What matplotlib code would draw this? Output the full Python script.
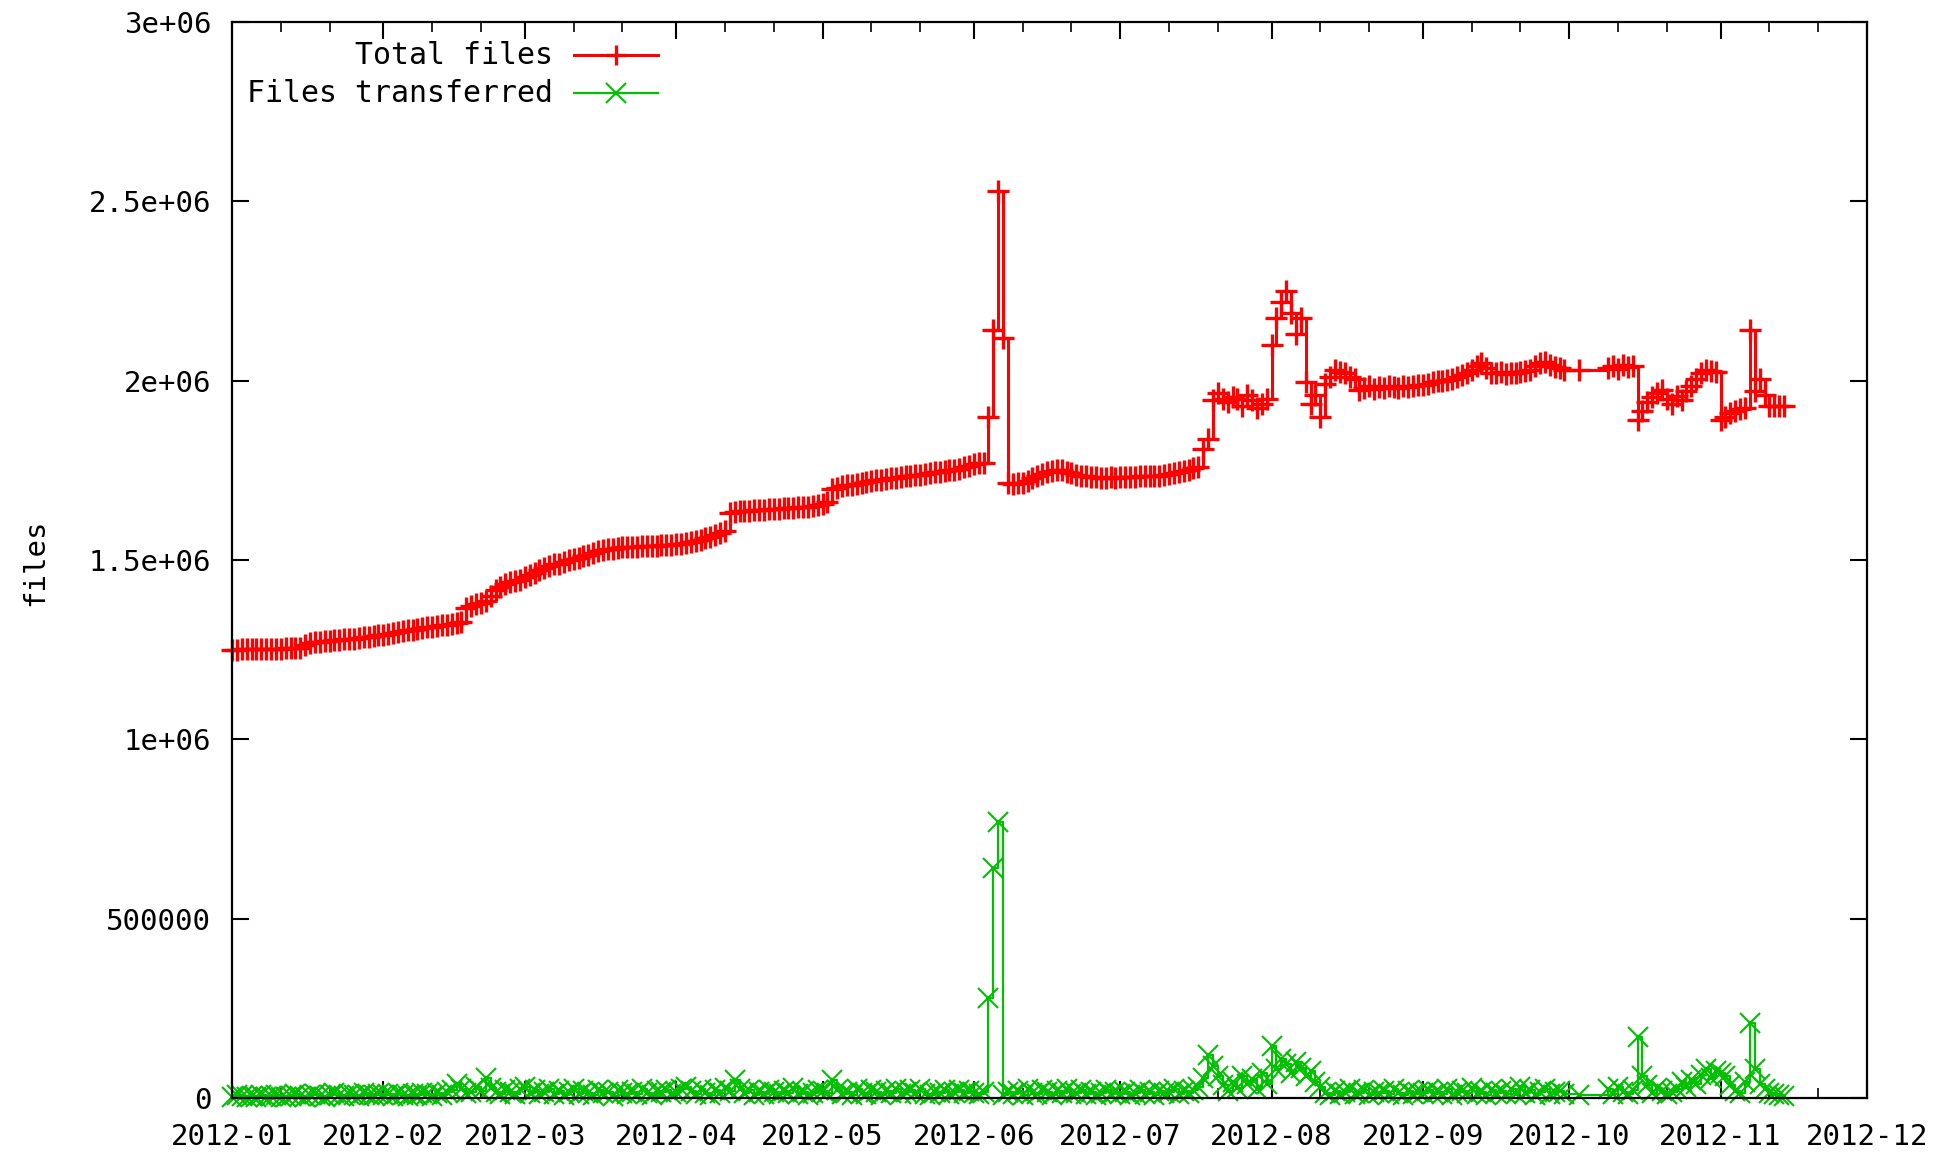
import pandas as pd
import matplotlib
matplotlib.use('Agg')
import matplotlib.pyplot as plt
import matplotlib.dates as mdates
from matplotlib.lines import Line2D

plt.rcParams['font.family'] = ['DejaVu Sans Mono']

# daily values in thousands of files, one list per month (None = no sample that day)
total_jan = [1250, 1250, 1251, 1251, 1251, 1252, 1252, 1252, 1253, 1253, 1253, 1254, 1254, 1254, 1255, 1262,
             1268, 1270, 1272, 1274, 1275, 1277, 1278, 1279, 1280, 1281, 1283, 1284, 1286, 1288, 1290]
total_feb = [1292, 1295, 1297, 1300, 1302, 1304, 1306, 1308, 1310, 1312, 1314, 1316, 1318, 1320, 1322,
             1325, 1328, 1365, 1372, 1376, 1380, 1385, 1400, 1415, 1425, 1432, 1438, 1442, 1445]
total_mar = [1452, 1458, 1465, 1472, 1478, 1484, 1488, 1490, 1495, 1500, 1503, 1506, 1510, 1515, 1520, 1525,
             1528, 1530, 1532, 1533, 1535, 1535, 1536, 1537, 1538, 1538, 1539, 1540, 1541, 1542, 1543]
total_apr = [1545, 1546, 1548, 1550, 1553, 1556, 1560, 1565, 1570, 1575, 1580, 1630, 1634, 1636, 1637,
             1638, 1639, 1640, 1640, 1641, 1642, 1643, 1644, 1645, 1646, 1647, 1648, 1649, 1650, 1652]
total_may = [1655, 1662, 1698, 1702, 1705, 1708, 1710, 1712, 1715, 1718, 1720, 1722, 1724, 1726, 1728, 1730,
             1732, 1733, 1735, 1736, 1738, 1740, 1742, 1744, 1746, 1748, 1750, 1752, 1755, 1758, 1762]
total_jun = [1768, 1770, 1771, 1900, 2140, 2530, 2120, 1715, 1712, 1714, 1716, 1720, 1728, 1735, 1740,
             1745, 1748, 1752, 1750, 1746, 1742, 1738, 1735, 1733, 1732, 1731, 1730, 1730, 1731, 1730]
total_jul = [1731, 1731, 1732, 1732, 1733, 1733, 1733, 1734, 1735, 1737, 1740, 1742, 1745, 1748, 1752, 1756,
             1760, 1810, 1836, 1945, 1965, 1950, 1940, 1955, 1948, 1930, 1960, 1945, 1925, 1935, 1950]
total_aug = [2100, 2175, 2220, 2250, 2190, 2130, 2175, 1995, 1935, 1960, 1900, 1990, 2010, 2030, 2025, 2020,
             2010, 2005, 1975, 1980, 1985, 1978, 1982, 1980, 1985, 1983, 1980, 1985, 1983, 1985, 1988]
total_sep = [1988, 1990, 1995, 1998, 2000, 2002, 2005, 2010, 2015, 2020, 2030, 2040, 2048, 2035, 2022,
             2020, 2025, 2018, 2022, 2020, 2025, 2028, 2030, 2040, 2048, 2052, 2045, 2038, 2035, 2030]
total_oct = [None, None, 2030, None, None, None, None, None, 2035, 2040, 2032, 2045, 2038, 2040, 1890, 1915,
             1940, 1955, 1965, 1975, 1950, 1935, 1958, 1945, 1970, 1985, 2005, 2020, 2030, 2028, 2025]
total_nov = [1890, 1900, 1910, 1915, 1920, 1925, 2140, 1970, 2005, 1960, 1930, 1928, 1930, 1930]

moved_jan = [3, 8, 5, 2, 6, 4, 9, 3, 5, 7, 4, 2, 6, 10, 5, 3, 8, 12, 6, 4, 9, 14, 7, 5, 11, 8, 6, 13, 9, 7, 10]
moved_feb = [8, 12, 6, 15, 9, 5, 11, 7, 14, 10, 6, 13, 8, 16, 22, 40, 25, 14, 18, 30, 20, 55, 28, 16, 12,
             22, 18, 10, 24]
moved_mar = [30, 15, 22, 10, 18, 25, 12, 20, 8, 16, 24, 11, 19, 14, 9, 21, 13, 17, 6, 23, 15, 10, 18, 12,
             26, 14, 8, 20, 16, 22, 11]
moved_apr = [18, 24, 30, 20, 12, 26, 15, 9, 22, 14, 28, 19, 50, 25, 13, 21, 8, 17, 11, 23, 16, 10, 20, 14,
             27, 12, 18, 9, 15, 22]
moved_may = [20, 14, 50, 22, 12, 18, 9, 25, 15, 11, 21, 16, 8, 19, 13, 24, 10, 17, 22, 14, 26, 12, 9, 18,
             15, 21, 11, 16, 23, 13, 19]
moved_jun = [14, 10, 18, 280, 640, 770, 8, 16, 12, 20, 9, 24, 15, 11, 22, 17, 8, 19, 13, 26, 10, 15, 21, 12,
             18, 9, 14, 23, 11, 16]
moved_jul = [12, 18, 9, 15, 22, 11, 17, 8, 20, 13, 16, 24, 10, 19, 14, 21, 30, 55, 120, 90, 60, 35, 20, 45,
             28, 60, 38, 52, 25, 70, 40]
moved_aug = [145, 80, 110, 95, 70, 100, 85, 60, 75, 45, 30, 15, 8, 20, 12, 18, 25, 10, 14, 22, 9, 16, 13, 20,
             11, 24, 15, 8, 19, 12, 17]
moved_sep = [14, 22, 10, 18, 12, 25, 9, 16, 20, 13, 28, 11, 17, 8, 23, 15, 19, 12, 26, 10, 30, 14, 21, 9, 18,
             24, 12, 16, 20, 11]
moved_oct = [None, None, 8, None, None, None, None, None, 25, 12, 30, 18, 10, 22, 170, 60, 35, 15, 28, 20, 12,
             18, 25, 45, 30, 50, 40, 65, 80, 55, 75]
moved_nov = [70, 60, 35, 20, 15, 45, 210, 80, 40, 25, 15, 10, 8, 5]

months = ['2012-01', '2012-02', '2012-03', '2012-04', '2012-05', '2012-06',
          '2012-07', '2012-08', '2012-09', '2012-10', '2012-11']
total_months = [total_jan, total_feb, total_mar, total_apr, total_may, total_jun,
                total_jul, total_aug, total_sep, total_oct, total_nov]
moved_months = [moved_jan, moved_feb, moved_mar, moved_apr, moved_may, moved_jun,
                moved_jul, moved_aug, moved_sep, moved_oct, moved_nov]

ytick_vals = [0, 500000, 1000000, 1500000, 2000000, 2500000, 3000000]
ytick_labels = ['0', '500000', '1e+06', '1.5e+06', '2e+06', '2.5e+06', '3e+06']


def build(month_lists):
    dates, vals = [], []
    for m, lst in zip(months, month_lists):
        days = pd.date_range(m + '-01', periods=len(lst), freq='D')
        for d, v in zip(days, lst):
            if v is not None:
                dates.append(d)
                vals.append(v * 1000)
    return dates, vals


total_x, total_y = build(total_months)
moved_x, moved_y = build(moved_months)

RED = '#ff0000'
GREEN = '#00c000'

fig = plt.figure(figsize=(19.48, 11.57), dpi=100)
ax = fig.add_axes([232 / 1948, 1 - 1098 / 1157, 1635 / 1948, 1076 / 1157])

ax.plot(total_x, total_y, color=RED, lw=2.2, drawstyle='steps-post',
        marker='+', ms=16, mew=2.4, clip_on=False)
ax.plot(moved_x, moved_y, color=GREEN, lw=1.6, drawstyle='steps-post',
        marker='x', ms=14, mew=1.5, clip_on=False)

ax.set_xlim(pd.Timestamp('2012-01-01'), pd.Timestamp('2012-12-01'))
ax.set_ylim(0, 3000000)
ax.xaxis.set_major_locator(mdates.MonthLocator())
ax.xaxis.set_minor_locator(mdates.DayLocator(bymonthday=[11, 21]))
ax.xaxis.set_major_formatter(mdates.DateFormatter('%Y-%m'))
ax.set_yticks(ytick_vals)
ax.set_yticklabels(ytick_labels)

ax.tick_params(which='major', direction='in', length=12, width=1.5,
               top=True, right=True, labelsize=21, colors='black')
ax.tick_params(which='minor', direction='in', length=7, width=1.2,
               top=True, right=False)
ax.tick_params(axis='x', pad=18)
ax.tick_params(axis='y', pad=15)
for s in ax.spines.values():
    s.set_linewidth(1.6)
    s.set_zorder(3)

fig.text(35 / 1948, 1 - 562 / 1157, 'files', rotation=90,
         ha='center', va='center', fontsize=21)

# gnuplot style key: right aligned text, sample to the right
key_rows = [('Total files', RED, '+', 2.2, 2.4), ('Files transferred', GREEN, 'x', 1.6, 1.5)]
for i, (label, col, mk, lw, mew) in enumerate(key_rows):
    yy = 1 - (55 + 38 * i) / 1157
    fig.text(553 / 1948, yy, label, ha='right', va='center', fontsize=21.5)
    fig.add_artist(Line2D([574 / 1948, 616 / 1948, 658 / 1948], [yy, yy, yy],
                          transform=fig.transFigure, color=col, lw=lw,
                          marker=mk, ms=15, mew=mew, markevery=[1]))

fig.savefig('out.png', dpi=100)
